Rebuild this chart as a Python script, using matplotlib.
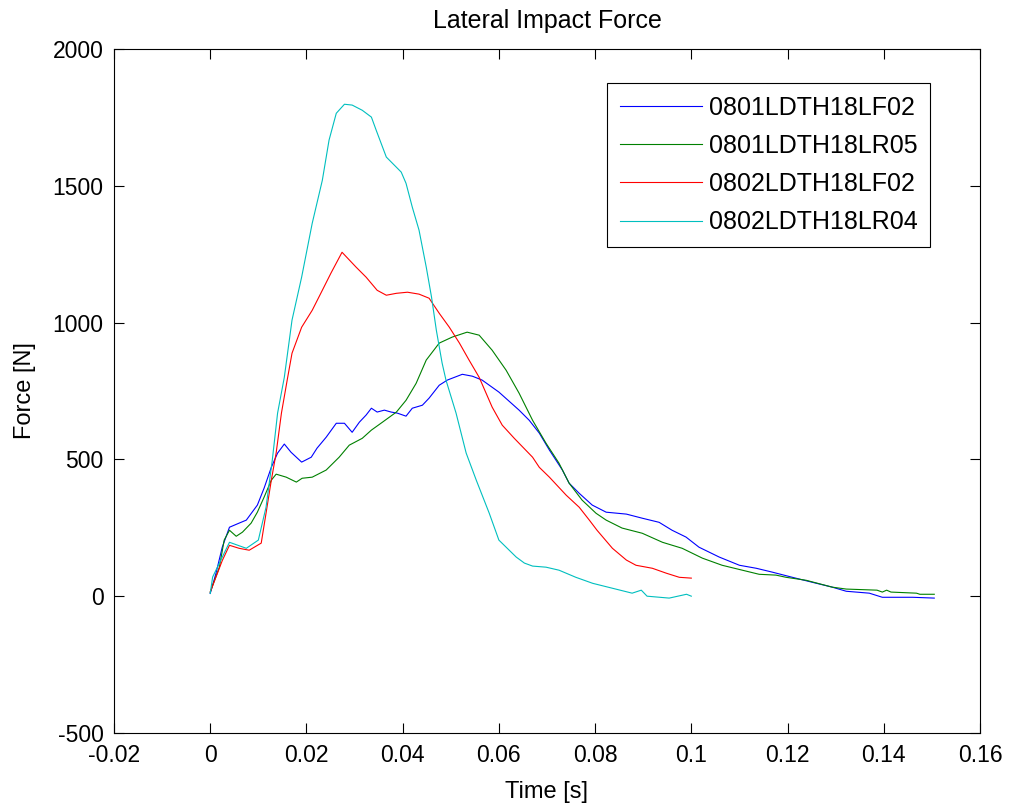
import matplotlib.pyplot as plt

plt.rcParams['font.family'] = ['Liberation Sans', 'DejaVu Sans']

labels = ['0801LDTH18LF02', '0801LDTH18LR05', '0802LDTH18LF02', '0802LDTH18LR04']

# time [s] / force [N] for each run
t_lf02_01 = [0, 0.0012, 0.0025, 0.004, 0.006, 0.0075, 0.0098, 0.0112, 0.0127, 0.014, 0.0154,
             0.0168, 0.019, 0.021, 0.0222, 0.0241, 0.0262, 0.0279, 0.0295, 0.031, 0.0324,
             0.0335, 0.0347, 0.0362, 0.0376, 0.0389, 0.0407, 0.042, 0.0441, 0.0455, 0.0476,
             0.0493, 0.0524, 0.0545, 0.0565, 0.060, 0.0642, 0.0663, 0.0684, 0.0705, 0.0732,
             0.0746, 0.0767, 0.0794, 0.0823, 0.0865, 0.0898, 0.0933, 0.096, 0.0989, 0.1016,
             0.1058, 0.11, 0.1135, 0.1168, 0.121, 0.1251, 0.1293, 0.1322, 0.137, 0.1397,
             0.146, 0.1505]
f_lf02_01 = [10, 84, 179, 252, 267, 278, 333, 395, 471, 523, 556,
             526, 490, 508, 541, 581, 632, 632, 599, 636, 662,
             687, 673, 680, 673, 669, 658, 687, 698, 724, 771,
             790, 811, 804, 790, 746, 680, 643, 596, 534, 461,
             413, 376, 333, 307, 300, 285, 270, 241, 216, 179,
             143, 113, 102, 88, 69, 51, 33, 18, 11, -4,
             -4, -7]

t_lr05_01 = [0, 0.0019, 0.0029, 0.004, 0.0054, 0.0067, 0.0085, 0.0098, 0.0112, 0.0127, 0.0137,
             0.0158, 0.0179, 0.0191, 0.0212, 0.0241, 0.0268, 0.0289, 0.0316, 0.0335, 0.0358,
             0.0387, 0.0407, 0.0428, 0.0449, 0.0476, 0.0503, 0.0534, 0.0559, 0.0586, 0.0615,
             0.0642, 0.067, 0.0698, 0.0725, 0.0746, 0.0773, 0.0802, 0.0823, 0.0856, 0.0898,
             0.094, 0.0981, 0.1023, 0.1064, 0.1106, 0.1141, 0.1176, 0.1197, 0.1239, 0.1293,
             0.1322, 0.1386, 0.1397, 0.1406, 0.1415, 0.1468, 0.1475, 0.1505]
f_lr05_01 = [15, 106, 205, 241, 219, 234, 267, 307, 362, 424, 446,
             435, 417, 431, 435, 461, 508, 552, 577, 607, 636,
             673, 716, 778, 863, 925, 947, 965, 954, 899, 826,
             742, 643, 559, 486, 413, 351, 303, 278, 249, 230,
             197, 175, 139, 113, 95, 80, 77, 69, 58, 33,
             26, 22, 15, 22, 15, 11, 7, 7]

t_lf02_02 = [0, 0.0025, 0.004, 0.006, 0.0081, 0.0106, 0.0116, 0.0127, 0.0137, 0.0148, 0.016,
             0.017, 0.019, 0.0212, 0.0233, 0.0251, 0.0274, 0.0303, 0.0324, 0.0347, 0.0366,
             0.0387, 0.041, 0.0434, 0.0455, 0.0476, 0.0497, 0.0518, 0.0538, 0.0559, 0.0586,
             0.0607, 0.0632, 0.067, 0.0684, 0.0705, 0.074, 0.0767, 0.0788, 0.0804, 0.0836,
             0.0865, 0.0885, 0.0919, 0.0948, 0.0975, 0.1]
f_lf02_02 = [15, 130, 186, 175, 168, 194, 303, 424, 523, 669, 790,
             888, 983, 1045, 1118, 1181, 1257, 1203, 1166, 1118, 1100,
             1107, 1111, 1104, 1089, 1034, 983, 925, 863, 800, 691,
             625, 577, 508, 471, 435, 369, 325, 278, 241, 175,
             132, 113, 102, 84, 69, 66]

t_lr04_02 = [0, 0.0005, 0.004, 0.0075, 0.010, 0.0116, 0.0129, 0.014, 0.0154, 0.017, 0.019,
             0.0212, 0.0233, 0.0247, 0.0262, 0.0279, 0.0295, 0.0316, 0.0335, 0.0345, 0.0366,
             0.0397, 0.0407, 0.042, 0.0434, 0.0449, 0.046, 0.047, 0.0482, 0.049, 0.0511,
             0.0532, 0.0553, 0.058, 0.060, 0.0636, 0.0653, 0.067, 0.0698, 0.0725, 0.076,
             0.0795, 0.0836, 0.0877, 0.0896, 0.0908, 0.0954, 0.099, 0.1]
f_lr04_02 = [10, 70, 197, 175, 205, 325, 497, 669, 800, 1009, 1166,
             1363, 1520, 1667, 1765, 1798, 1795, 1776, 1751, 1703, 1605,
             1550, 1509, 1422, 1338, 1203, 1093, 972, 852, 790, 669,
             523, 424, 303, 205, 143, 121, 110, 106, 95, 69,
             47, 29, 11, 22, 0, -7, 7, 0]

xticks = [-0.02, 0, 0.02, 0.04, 0.06, 0.08, 0.1, 0.12, 0.14, 0.16]
xticklabels = ['-0.02', '0', '0.02', '0.04', '0.06', '0.08', '0.1', '0.12', '0.14', '0.16']
yticks = [-500, 0, 500, 1000, 1500, 2000]
yticklabels = ['-500', '0', '500', '1000', '1500', '2000']

fig = plt.figure(figsize=(10.17, 8.11), dpi=100)
ax = fig.add_axes([0.1121, 0.0962, 0.8515, 0.8434])

lw = 0.8
ax.plot(t_lf02_01, f_lf02_01, color='b', lw=lw, label=labels[0])
ax.plot(t_lr05_01, f_lr05_01, color=(0, 0.5, 0), lw=lw, label=labels[1])
ax.plot(t_lf02_02, f_lf02_02, color='r', lw=lw, label=labels[2])
ax.plot(t_lr04_02, f_lr04_02, color=(0, 0.75, 0.75), lw=lw, label=labels[3])

ax.set_xlim(-0.02, 0.16)
ax.set_ylim(-500, 2000)
ax.set_xticks(xticks)
ax.set_xticklabels(xticklabels)
ax.set_yticks(yticks)
ax.set_yticklabels(yticklabels)
ax.tick_params(direction='in', top=True, right=True, labelsize=16.5, length=7, width=0.8)
ax.tick_params(axis='x', pad=8)
ax.tick_params(axis='y', pad=7.5)
for s in ax.spines.values():
    s.set_linewidth(0.8)

ax.set_title('Lateral Impact Force', fontsize=18, pad=15)
ax.set_xlabel('Time [s]', fontsize=17, labelpad=10)
ax.set_ylabel('Force [N]', fontsize=17, labelpad=12)

leg = ax.legend(loc='upper right', bbox_to_anchor=(0.942, 0.950), borderaxespad=0,
                fontsize=18, fancybox=False, edgecolor='black', framealpha=1,
                handlelength=3.3, labelspacing=0.57, borderpad=0.5, handletextpad=0.25)
leg.get_frame().set_linewidth(0.8)

fig.savefig('out.png', dpi=100)
